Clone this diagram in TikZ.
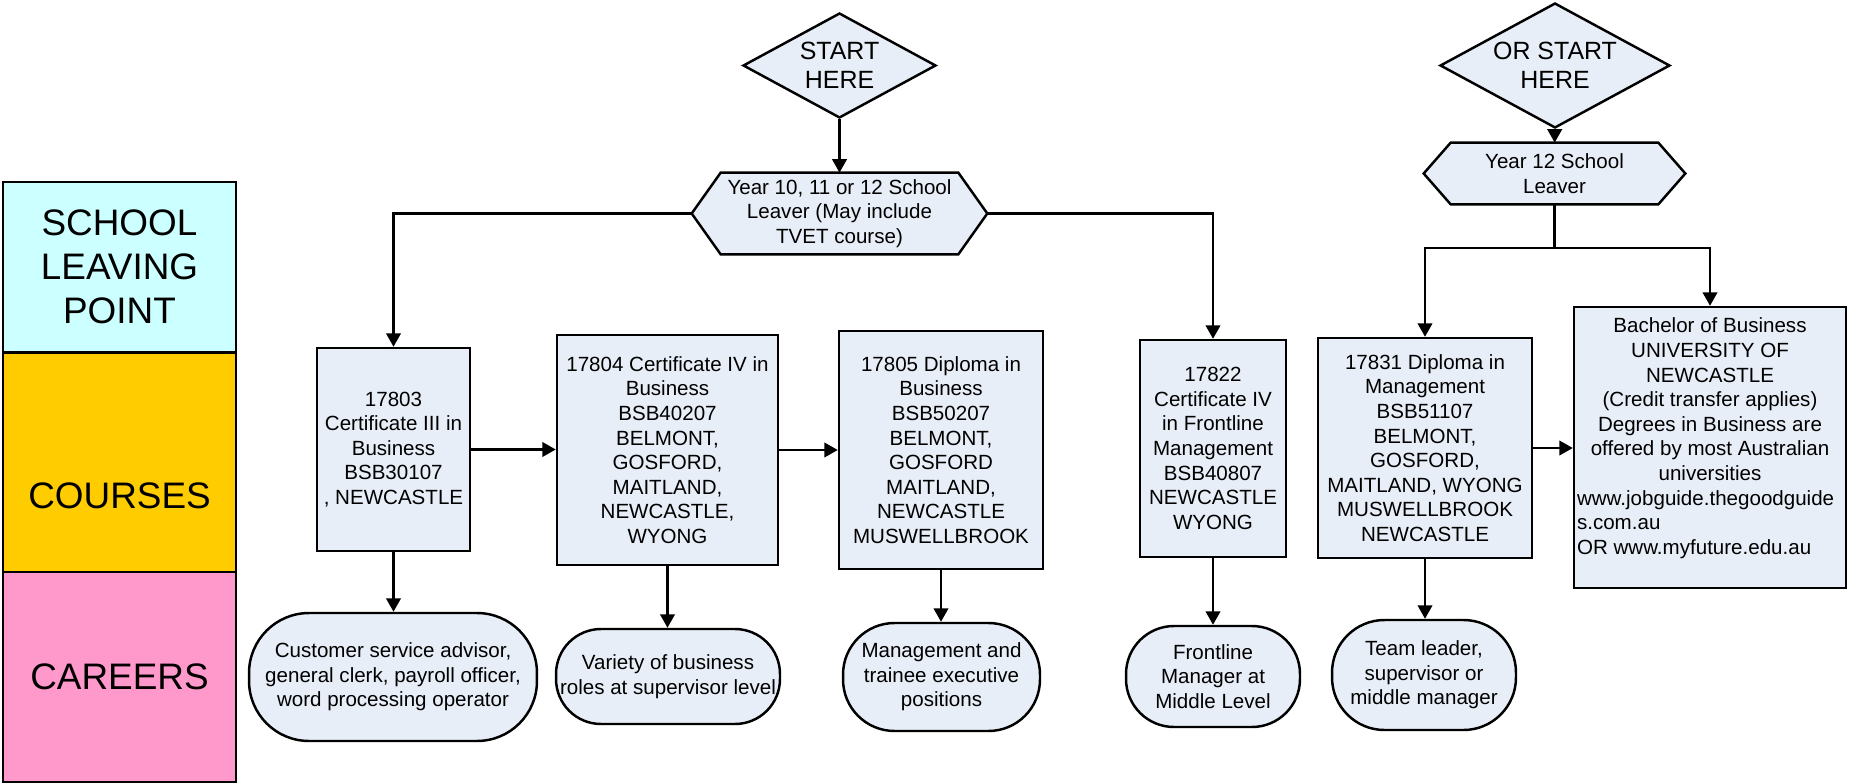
\documentclass[tikz,border=0pt]{standalone}
\usepackage{fontspec}
\setmainfont{Liberation Sans}
\usetikzlibrary{shapes.geometric, arrows.meta, backgrounds}

\definecolor{boxfill}{RGB}{232,238,247}
\definecolor{lanecyan}{RGB}{204,255,255}
\definecolor{laneyellow}{RGB}{255,204,0}
\definecolor{lanepink}{RGB}{255,153,204}

\tikzset{
    every node/.style={font=\fontsize{11.7}{14}\selectfont},
    lane/.style={draw, line width=1.4pt, minimum width=4.66cm, inner sep=0pt, align=center, font=\fontsize{21}{25}\selectfont},
    start/.style={draw, diamond, aspect=1.84, line width=1.4pt, fill=boxfill, inner sep=0pt, align=center, font=\fontsize{14.2}{16.5}\selectfont},
    leaverbox/.style={inner sep=0pt, align=center},
    hexline/.style={draw, line width=1.4pt, fill=boxfill},
    course/.style={draw, line width=1.4pt, fill=boxfill, inner sep=0pt, align=center},
    career/.style={draw, line width=1.4pt, fill=boxfill, inner sep=0pt, align=center},
    flow/.style={line width=1.4pt, -{Triangle[length=0.27cm, width=0.29cm]}},
    link/.style={line width=1.4pt}
}

\begin{document}
\begin{tikzpicture}[x=0.02cm, y=-0.02cm]
    \useasboundingbox (0,0) rectangle (1849,784);

    % Lanes on the left
    \node[lane, fill=lanecyan, minimum height=3.4cm] (school) at (119.5,267) {SCHOOL\\LEAVING\\POINT};
    \node[lane, fill=laneyellow, text height=3.1cm, text depth=1.3cm, anchor=north] (courses) at (119.5,352) {COURSES};
    \node[lane, fill=lanepink, minimum height=4.2cm] (careers) at (119.5,677) {CAREERS};

    % Start points
    \node[start, minimum width=3.86cm, minimum height=2.1cm] (start) at (839.5,65.5) {START\\HERE};
    \node[start, minimum width=4.6cm, minimum height=2.5cm] (start2) at (1555,65.5) {OR START\\HERE};

    % School leavers (hexagons drawn behind)
    \node[leaverbox, minimum width=5.9cm, minimum height=1.62cm] (leaver) at (839.5,213.5) {Year 10, 11 or 12 School\\Leaver (May include\\TVET course)};
    \node[leaverbox, minimum width=5.22cm, minimum height=1.22cm] (leaver2) at (1554.5,173.5) {Year 12 School\\Leaver};
    \begin{scope}[on background layer]
        \filldraw[hexline] (leaver.west) -- ([xshift=0.58cm]leaver.north west) -- ([xshift=-0.58cm]leaver.north east)
            -- (leaver.east) -- ([xshift=-0.58cm]leaver.south east) -- ([xshift=0.58cm]leaver.south west) -- cycle;
        \filldraw[hexline] (leaver2.west) -- ([xshift=0.54cm]leaver2.north west) -- ([xshift=-0.54cm]leaver2.north east)
            -- (leaver2.east) -- ([xshift=-0.54cm]leaver2.south east) -- ([xshift=0.54cm]leaver2.south west) -- cycle;
    \end{scope}

    % Courses
    \node[course, minimum width=3.06cm, minimum height=4.06cm] (c803) at (393.5,449.5) {17803\\Certificate III in\\Business\\BSB30107\\, NEWCASTLE};
    \node[course, minimum width=4.42cm, minimum height=4.6cm] (c804) at (667.5,450) {17804 Certificate IV in\\Business\\BSB40207\\BELMONT,\\GOSFORD,\\MAITLAND,\\NEWCASTLE,\\WYONG};
    \node[course, minimum width=4.08cm, minimum height=4.76cm] (c805) at (941,450) {17805 Diploma in\\Business\\BSB50207\\BELMONT,\\GOSFORD\\MAITLAND,\\NEWCASTLE\\MUSWELLBROOK};
    \node[course, minimum width=2.92cm, minimum height=4.34cm] (c822) at (1213,448.5) {17822\\Certificate IV\\in Frontline\\Management\\BSB40807\\NEWCASTLE\\WYONG};
    \node[course, minimum width=4.28cm, minimum height=4.4cm] (c831) at (1425,448) {17831 Diploma in\\Management\\BSB51107\\BELMONT,\\GOSFORD,\\MAITLAND, WYONG\\MUSWELLBROOK\\NEWCASTLE};
    \node[course, inner xsep=0.06cm, inner ysep=0.22cm] (bach) at (1710,447.5) {\parbox[c][5.18cm][t]{5.32cm}{\centering
        Bachelor of Business\\UNIVERSITY OF\\NEWCASTLE\\(Credit transfer applies)\\Degrees in Business are\\offered by most Australian\\universities\par
        \raggedright www.jobguide.thegoodguide\\s.com.au\\OR www.myfuture.edu.au\par}};

    % Careers
    \node[career, rounded corners=1.2cm, minimum width=5.76cm, minimum height=2.56cm] (k803) at (393,677) {Customer service advisor,\\general clerk, payroll officer,\\word processing operator};
    \node[career, rounded corners=0.9cm, minimum width=4.48cm, minimum height=1.9cm] (k804) at (668,676.5) {Variety of business\\roles at supervisor level};
    \node[career, rounded corners=1.03cm, minimum width=3.94cm, minimum height=2.16cm] (k805) at (941.5,677) {Management and\\trainee executive\\positions};
    \node[career, rounded corners=0.96cm, minimum width=3.48cm, minimum height=2.02cm] (k822) at (1213,676.5) {Frontline\\Manager at\\Middle Level};
    \node[career, rounded corners=1.05cm, minimum width=3.68cm, minimum height=2.2cm] (k831) at (1424,675) {Team leader,\\supervisor or\\middle manager};

    % Flow from first start
    \draw[flow] (start) -- (leaver);
    \draw[flow] (leaver.west) -| (c803.north);
    \draw[flow] (leaver.east) -| (c822.north);
    \draw[flow] (c803.east) -- (c803.east -| c804.west);
    \draw[flow] (c804.east) -- (c804.east -| c805.west);

    % Flow from second start
    \draw[flow] (start2) -- (leaver2);
    \coordinate (fork) at (1554.5,248);
    \draw[link] (leaver2.south) -- (fork);
    \draw[flow] (fork) -| (c831.north);
    \draw[flow] (fork) -| (bach.north);
    \draw[flow] (c831.east) -- (c831.east -| bach.west);

    % Courses to careers
    \draw[flow] (c803.south) -- (c803.south |- k803.north);
    \draw[flow] (c804.south) -- (c804.south |- k804.north);
    \draw[flow] (c805.south) -- (c805.south |- k805.north);
    \draw[flow] (c822.south) -- (c822.south |- k822.north);
    \draw[flow] (c831.south) -- (c831.south |- k831.north);
\end{tikzpicture}
\end{document}
